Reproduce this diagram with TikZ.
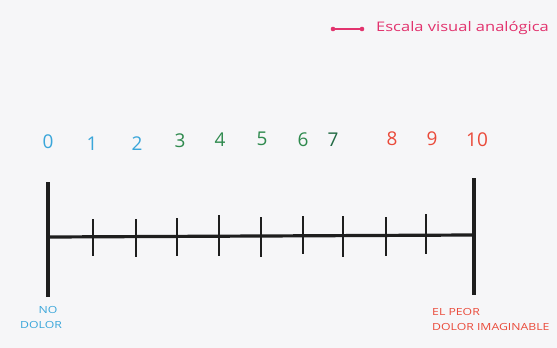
\documentclass[tikz,border=0pt]{standalone}
\usepackage{fontspec}
\setmainfont{Open Sans}
\newfontfamily\widefont[FakeStretch=1.25]{Open Sans}
\definecolor{paper}{HTML}{F6F6F8}
\definecolor{cblue}{HTML}{3AA6DA}
\definecolor{cgreen}{HTML}{2F8A4E}
\definecolor{cdgreen}{HTML}{236B45}
\definecolor{cred}{HTML}{EA4A3A}
\definecolor{cpink}{HTML}{E2336E}
\definecolor{ink}{HTML}{1E1E1E}
\begin{document}
\begin{tikzpicture}[x=1pt,y=-1pt,
  num/.style={font=\fontsize{19}{19}\selectfont, inner sep=0pt, anchor=center},
  endlabel/.style={font=\widefont\fontsize{9.8}{10}\selectfont, inner sep=0pt, anchor=west},
  tickmark/.style={line width=2.6pt, ink},
  endbar/.style={line width=4pt, ink}]
\fill[paper] (0,0) rectangle (557,348);
\useasboundingbox (0,0) rectangle (557,348);
% legend
\coordinate (la) at (333,29);
\coordinate (lb) at (362,29);
\draw[cpink, line width=1.6pt] (la) -- (lb);
\fill[cpink] (la) circle (2.3pt) (lb) circle (2.3pt);
\node[font=\widefont\fontsize{13.2}{13}\selectfont, text=cpink, anchor=west, inner sep=0pt] (legend) at (376,28) {Escala visual analógica};
% numbers
\node[num, text=cblue] (n0) at (48,142) {0};
\node[num, text=cblue] (n1) at (92,144) {1};
\node[num, text=cblue] (n2) at (137,144) {2};
\node[num, text=cgreen] (n3) at (180,141) {3};
\node[num, text=cgreen] (n4) at (220,140) {4};
\node[num, text=cgreen] (n5) at (262,139) {5};
\node[num, text=cgreen] (n6) at (303,140) {6};
\node[num, text=cdgreen] (n7) at (333,140) {7};
\node[num, text=cred] (n8) at (392,139) {8};
\node[num, text=cred] (n9) at (432,139) {9};
\node[num, text=cred] (n10) at (477,140) {10};
% scale
\coordinate (L) at (50,237);
\coordinate (R) at (472,235);
\draw[line width=3.2pt, ink] (L) -- (R);
\draw[endbar] (48,182) -- (48,297);
\draw[endbar, line width=4.8pt] (474,178) -- (474,295);
\foreach \x/\t/\b in {93/219/256,136/219/257,177/218/256,219/215/256,261/217/257,303/216/254,343/216/257,386/217/256,426/214/254}
  \draw[tickmark] (\x,\t) -- (\x,\b);
% end labels
\node[endlabel, text=cblue, anchor=center] (no) at (48,310) {NO};
\node[endlabel, text=cblue] (dolor) at (20,325) {DOLOR};
\node[endlabel, text=cred] (peor) at (432,312) {EL PEOR};
\node[endlabel, text=cred] (imag) at (432,327) {DOLOR IMAGINABLE};
\end{tikzpicture}
\end{document}
